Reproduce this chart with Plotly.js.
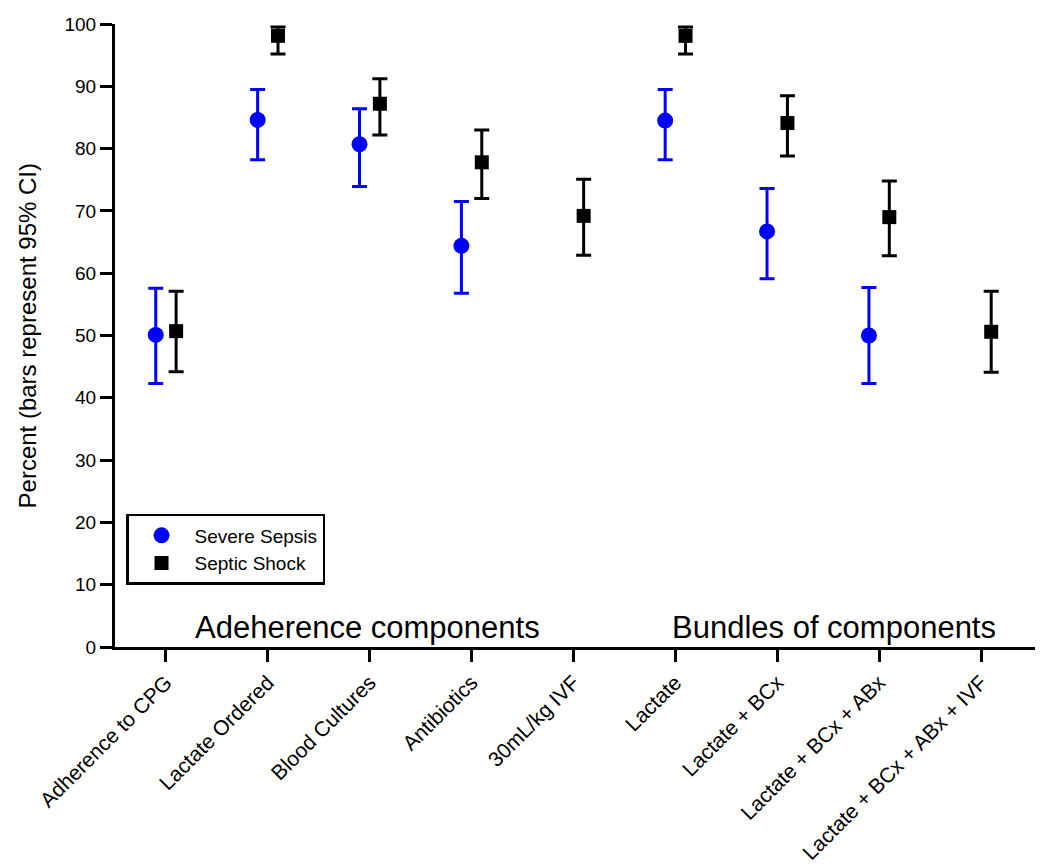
<!DOCTYPE html>
<html>
<head>
<meta charset="utf-8">
<script src="https://cdn.plot.ly/plotly-3.0.1.min.js"></script>
<style>html,body{margin:0;padding:0;background:#fff;}#chart{width:1050px;height:864px;}</style>
</head>
<body>
<div id="chart"></div>
<script>
const categories = ["Adherence to CPG","Lactate Ordered","Blood Cultures","Antibiotics","30mL/kg IVF","Lactate","Lactate + BCx","Lactate + BCx + ABx","Lactate + BCx + ABx + IVF"];
const severeValue = [50.1, 84.6, 80.7, 64.4, null, 84.5, 66.7, 50.0, null];
const severeUpper = [57.6, 89.5, 86.4, 71.5, null, 89.5, 73.6, 57.7, null];
const severeLower = [42.3, 78.2, 73.9, 56.8, null, 78.2, 59.1, 42.3, null];
const shockValue = [50.7, 98.1, 87.2, 77.8, 69.2, 98.1, 84.1, 69.0, 50.6];
const shockUpper = [57.1, 99.5, 91.2, 83.0, 75.1, 99.5, 88.5, 74.8, 57.1];
const shockLower = [44.2, 95.2, 82.2, 72.0, 62.9, 95.2, 78.8, 62.8, 44.1];
const groupLabels = ["Adeherence components", "Bundles of components"];
const yTitle = "Percent (bars represent 95% CI)";
const yTicks = [0,10,20,30,40,50,60,70,80,90,100];

const idx = categories.map((c,i)=>i);
const font = "Liberation Sans, Arial, sans-serif";

function errs(vals, up, lo){
  return {
    plus: vals.map((v,i)=> v==null?null:+(up[i]-v).toFixed(2)),
    minus: vals.map((v,i)=> v==null?null:+(v-lo[i]).toFixed(2))
  };
}
const se = errs(severeValue, severeUpper, severeLower);
const sh = errs(shockValue, shockUpper, shockLower);

const traces = [
  {
    type:"scatter", mode:"markers", name:"Severe Sepsis",
    x: idx.map(i=>i-0.1), y: severeValue,
    marker:{symbol:"circle", size:16, color:"#0000ff"},
    error_y:{type:"data", symmetric:false, array:se.plus, arrayminus:se.minus, color:"#0000ff", thickness:3, width:7.5},
    cliponaxis:false
  },
  {
    type:"scatter", mode:"markers", name:"Septic Shock",
    x: idx.map(i=>i+0.1), y: shockValue,
    marker:{symbol:"square", size:14, color:"#000000"},
    error_y:{type:"data", symmetric:false, array:sh.plus, arrayminus:sh.minus, color:"#000000", thickness:3, width:7.5},
    cliponaxis:false
  }
];

const layout = {
  width:1050, height:864,
  margin:{l:115, r:15, t:24, b:217},
  paper_bgcolor:"#fff", plot_bgcolor:"#fff",
  font:{family:font, color:"#000", size:19},
  showlegend:true,
  legend:{x:0.012, y:0.2135, xanchor:"left", yanchor:"top", bordercolor:"#000", borderwidth:2.5,
          font:{size:19, family:font}, bgcolor:"rgba(255,255,255,0)", tracegroupgap:0, itemwidth:56},
  xaxis:{
    range:[-0.5, 8.53], tickmode:"array", tickvals:idx, ticktext:categories,
    tickangle:-45, ticks:"outside", ticklen:12, tickwidth:3, tickcolor:"#000",
    showline:true, linecolor:"#000", linewidth:3, showgrid:false, zeroline:false,
    tickfont:{size:21, family:font}, fixedrange:true
  },
  yaxis:{
    range:[0,100], tickmode:"array", tickvals:yTicks,
    ticks:"outside", ticklen:12, tickwidth:3, tickcolor:"#000",
    showline:true, linecolor:"#000", linewidth:3, showgrid:false, zeroline:false,
    tickfont:{size:19, family:font}
  },
  annotations:[
    {text:groupLabels[0], xref:"x", yref:"paper", x:1.98, y:0, yanchor:"bottom", xanchor:"center", showarrow:false, font:{size:31, family:font}},
    {text:groupLabels[1], xref:"x", yref:"paper", x:6.555, y:0, yanchor:"bottom", xanchor:"center", showarrow:false, font:{size:31, family:font}},
    {text:yTitle, xref:"paper", yref:"paper", x:-0.0946, y:0.5, xanchor:"center", yanchor:"middle", textangle:-90, showarrow:false, font:{size:24, family:font}}
  ]
};

Plotly.newPlot("chart", traces, layout, {displayModeBar:false, staticPlot:true});
</script>
</body>
</html>
